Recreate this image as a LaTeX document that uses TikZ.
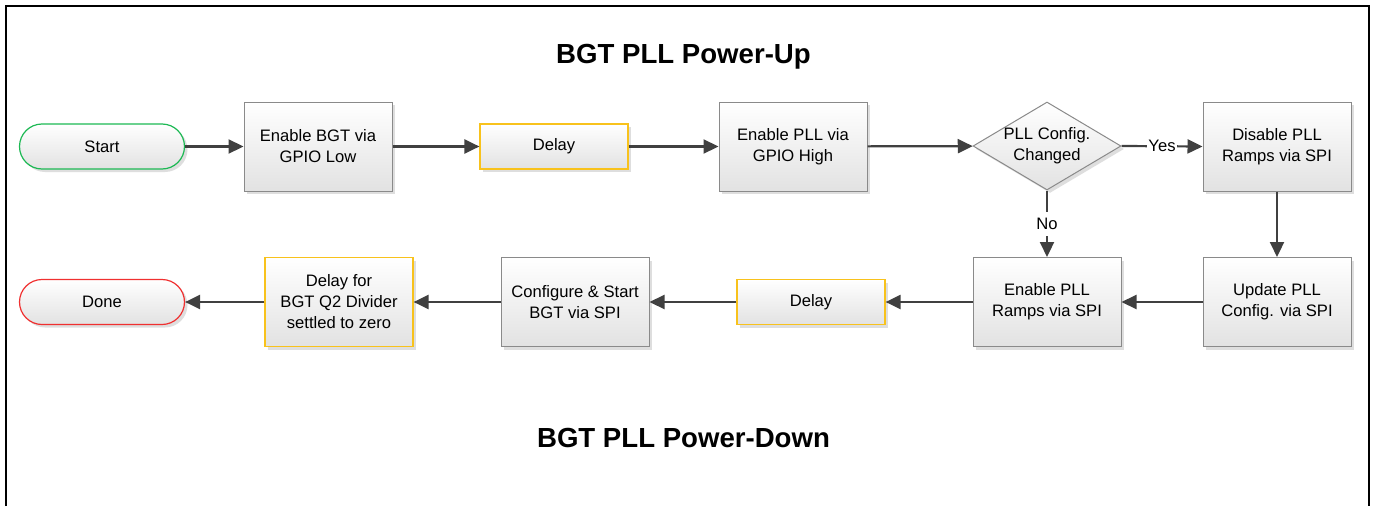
\documentclass[tikz,border=0pt]{standalone}
\usepackage{fontspec}
\setmainfont{Liberation Sans}
\usetikzlibrary{shapes.geometric,arrows.meta,shadows}
\definecolor{arr}{HTML}{404040}
\definecolor{bord}{HTML}{8A8A8A}
\definecolor{ylw}{HTML}{F8C21C}
\definecolor{grn}{HTML}{1DB954}
\definecolor{rd}{HTML}{F03030}
\definecolor{fillb}{HTML}{E2E2E2}
\tikzset{
  base/.style={draw=bord, line width=1pt, top color=white, bottom color=fillb,
    drop shadow={shadow xshift=3pt, shadow yshift=-3pt, fill=black!25, opacity=0.5},
    align=center, inner sep=2pt, font=\fontsize{16.6}{21}\selectfont},
  proc/.style={base, minimum width=148pt, minimum height=89pt},
  delaybox/.style={base, draw=ylw, line width=1.2pt, minimum width=148pt, minimum height=45pt},
  term/.style={base, line width=1.2pt, rounded corners=22.5pt, minimum width=165pt, minimum height=45pt},
  dec/.style={base, diamond, minimum width=148pt, minimum height=88pt, inner sep=0pt, shape aspect=1.68},
  flow/.style={draw=arr, line width=2.2pt, -{Triangle[length=15pt,width=14pt]}},
  lab/.style={fill=white, inner sep=3pt, font=\fontsize{16.6}{21}\selectfont},
  ttl/.style={font=\fontsize{27.6}{32}\selectfont\bfseries}
}
\begin{document}
\begin{tikzpicture}[x=1pt,y=-1pt]
\useasboundingbox (0,0) rectangle (1375,506);
\fill[white] (0,0) rectangle (1375,506);
\draw[line width=2.2pt, line join=miter] (6,506) -- (6,6) -- (1369,6) -- (1369,506);

\node[ttl] (t1) at (683.5,57) {BGT PLL Power-Up};
\node[ttl] (t2) at (683.5,438) {BGT PLL Power-Down};

\node[term, draw=grn] (start) at (102,146.5) {Start};
\node[proc] (ebgt) at (318,146.5) {Enable BGT via\\GPIO Low};
\node[delaybox] (d1) at (554,146.5) {Delay};
\node[proc] (epll) at (793,146.5) {Enable PLL via\\GPIO High};
\node[dec, label={[align=center, font=\fontsize{16.6}{21}\selectfont]center:PLL Config.\\Changed}] (dc) at (1047,146) {};
\node[proc] (dis) at (1277,146.5) {Disable PLL\\Ramps via SPI};
\node[proc] (upd) at (1277,302) {Update PLL\\Config. via SPI};
\node[proc] (enr) at (1047,302) {Enable PLL\\Ramps via SPI};
\node[delaybox] (d2) at (811,302) {Delay};
\node[proc] (cfg) at (575,302) {Configure \& Start\\BGT via SPI};
\node[proc, draw=ylw, line width=1.2pt] (d3) at (339,302) {Delay for\\BGT Q2 Divider\\settled to zero};
\node[term, draw=rd] (done) at (102,302) {Done};

\draw[flow] (start) -- (ebgt);
\draw[flow] (ebgt) -- (d1);
\draw[flow] (d1) -- (epll);
\draw[flow] (epll) -- (dc);
\draw[flow] (dc.east) -- node[lab, inner xsep=1pt] {Yes} (dis.west);
\draw[flow] (dis) -- (upd);
\draw[flow] (dc.south) -- node[lab, inner ysep=6pt, pos=0.5] {No} (enr.north);
\draw[flow] (upd) -- (enr);
\draw[flow] (enr) -- (d2);
\draw[flow] (d2) -- (cfg);
\draw[flow] (cfg) -- (d3);
\draw[flow] (d3) -- (done);
\end{tikzpicture}
\end{document}
